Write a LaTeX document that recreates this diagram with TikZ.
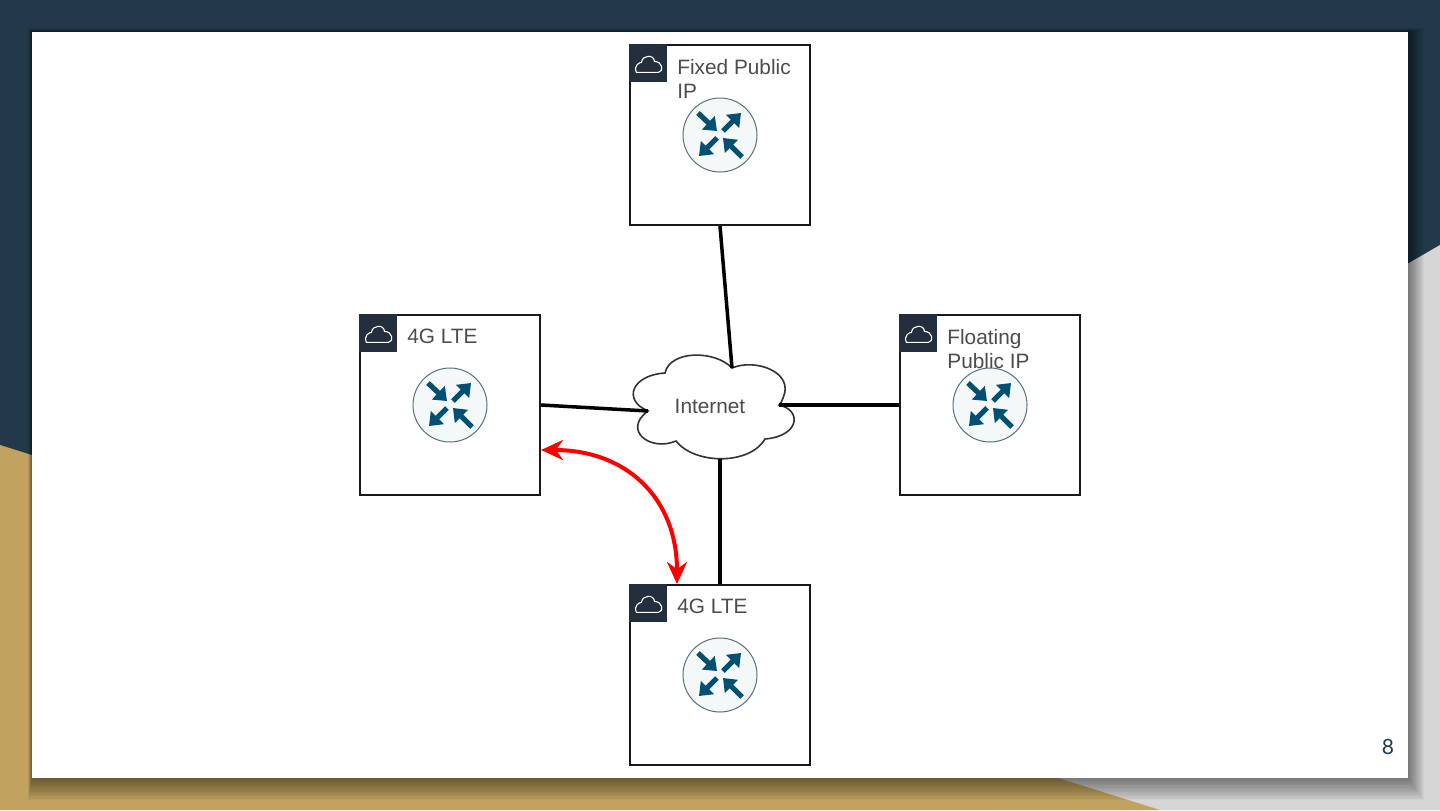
\documentclass[tikz,border=0pt]{standalone}
\usepackage{fontspec}
\setmainfont{Liberation Sans}
\newfontfamily\pagefont{Lato}
\usepackage{xcolor}
\usetikzlibrary{arrows.meta,calc,positioning}
\definecolor{slidedark}{HTML}{22394A}
\definecolor{slidegold}{HTML}{C1A35F}
\definecolor{slidegray}{HTML}{D6D6D6}
\definecolor{badgedark}{HTML}{232F3E}
\definecolor{routerblue}{HTML}{005073}
\tikzset{
  netbox/.style={draw=black!90,line width=1pt,fill=white,minimum size=90pt,inner sep=0pt},
  badge/.style={fill=badgedark,minimum size=19pt,inner sep=0pt,anchor=north west},
  boxlabel/.style={anchor=north west,align=left,inner sep=0pt,text=black!70,font=\fontsize{10.4}{12}\selectfont},
  link/.style={line width=1.75pt,black},
  routerarrow/.style={line width=2.6pt,routerblue,-{Triangle[length=6pt,width=9pt]}},
}
\begin{document}
\begin{tikzpicture}[x=.5pt,y=-.5pt,node distance=135pt]
  \useasboundingbox (0,0) rectangle (1440,810);
  % slide background
  \fill[slidedark] (0,0) rectangle (1440,810);
  \fill[slidegray] (1440,245) -- (1000,500) -- (1000,810) -- (1440,810) -- cycle;
  \fill[slidegold] (0,445) -- (1160,810) -- (0,810) -- cycle;
  \foreach \g in {1,...,16}
    \fill[black,opacity=.03] (32-\g/4,32-\g/4) rectangle (1408+\g,778+1.4*\g);
  \fill[white] (32,32) rectangle (1408,778);
  \node[inner sep=0pt,text=slidedark,font=\fontsize{10.5}{12}\pagefont] (pagenum) at (1388,747) {8};

  \coordinate (mid) at (720,405);
  \node[netbox,above of=mid] (fixedip) {};
  \node[netbox,left of=mid] (lteleft) {};
  \node[netbox,right of=mid] (floatip) {};
  \node[netbox,below of=mid] (ltebottom) {};

  \foreach \b in {fixedip,lteleft,floatip,ltebottom} {
    \node[badge] (\b badge) at (\b.north west) {};
    \begin{scope}[shift={(\b badge.center)}]
      \draw[white,line width=.55pt,line join=round]
        (-12,9) .. controls (-15,2) and (-9,-1) .. (-7,-1)
        .. controls (-6,-9) and (6,-9) .. (6,-2)
        .. controls (14,-2) and (16,8) .. (10,9) -- cycle;
    \end{scope}
    \begin{scope}[shift={(\b.center)}]
      \draw[gray!70!routerblue,line width=.5pt,fill=routerblue!4] (0,0) circle (18.5pt);
      \draw[routerarrow] (-22,-22) -- (-3,-4);
      \draw[routerarrow] (3,-4) -- (21,-22);
      \draw[routerarrow] (-3,3) -- (-21,21);
      \draw[routerarrow] (22,22) -- (3,3);
    \end{scope}
  }
  \node[boxlabel] (fixedtext) at ($(fixedip.north west)+(48,15)$) {Fixed Public\\IP};
  \node[boxlabel] (ltelefttext) at ($(lteleft.north west)+(48,15)$) {4G LTE};
  \node[boxlabel] (floattext) at ($(floatip.north west)+(48,15)$) {Floating\\Public IP};
  \node[boxlabel] (ltebottomtext) at ($(ltebottom.north west)+(48,15)$) {4G LTE};

  % cloud outline, then the links up to its notches
  \coordinate (nettop) at (732,368);
  \coordinate (netright) at (779,405);
  \coordinate (netbottom) at (720,459);
  \coordinate (netleft) at (648,411);
  \draw[black!80,line width=.8pt,fill=white] (nettop)
    .. controls (755,358) and (795,372) .. (783,398)
    .. controls (782,401) and (781,403) .. (netright)
    .. controls (802,410) and (800,436) .. (765,439)
    .. controls (750,465) and (695,465) .. (676,441)
    .. controls (650,452) and (622,430) .. (netleft)
    .. controls (622,400) and (632,375) .. (665,373)
    .. controls (670,350) and (715,350) .. (nettop) -- cycle;
  \node[inner sep=0pt,text=black!70,font=\fontsize{10.4}{12}\selectfont] (internet) at (710,406) {Internet};

  \draw[link] (fixedip.south) -- (nettop);
  \draw[link] (lteleft.east) -- (netleft);
  \draw[link] (floatip.west) -- (netright);
  \draw[link] (ltebottom.north) -- (netbottom);

  \draw[red,line width=2pt,{Stealth[length=11pt,width=10pt]}-{Stealth[length=11pt,width=10pt]}]
    ([yshift=-22.5pt]lteleft.east) to[out=0,in=90,looseness=1.15] ([xshift=-21.5pt]ltebottom.north);
\end{tikzpicture}
\end{document}
